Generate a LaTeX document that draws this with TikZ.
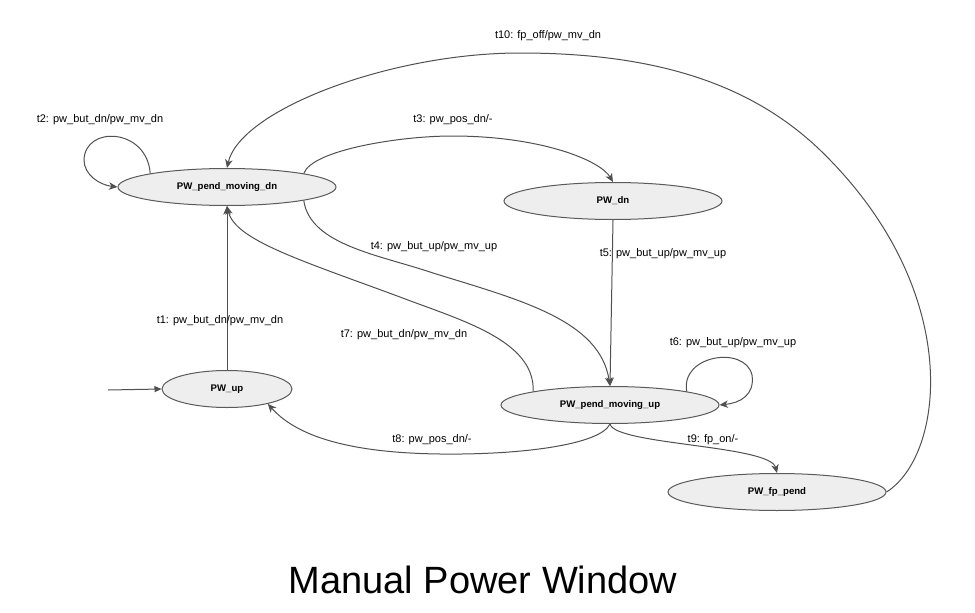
\documentclass[tikz,border=0pt]{standalone}
\usepackage{fontspec}
\setmainfont{Liberation Sans}
\usetikzlibrary{shapes.geometric,arrows.meta}
\definecolor{edgec}{HTML}{505050}
\definecolor{nodefill}{HTML}{EEEEEE}
\definecolor{nodeline}{HTML}{5A5A5A}
\tikzset{
  state/.style={ellipse, draw=nodeline, fill=nodefill, line width=1pt, inner sep=0pt,
    minimum width=218pt, minimum height=37pt, font=\fontsize{9.6}{11}\selectfont\bfseries},
  trans/.style={draw=edgec, line width=1pt, -{Stealth[length=8.5pt,width=7.5pt,inset=2.5pt]}},
  initarrow/.style={draw=edgec, line width=1pt, -{Triangle[length=7pt,width=6pt]}},
  lbl/.style={font=\fontsize{11}{13}\selectfont, inner sep=0pt, text=black},
}
\begin{document}
\begin{tikzpicture}[x=1pt,y=-1pt]
\useasboundingbox (0,0) rectangle (975,613);
% states
\node[state] (pmd) at (227,187) {PW\_pend\_moving\_dn};
\node[state] (dn)  at (613,201) {PW\_dn};
\node[state, minimum width=130pt] (up) at (227,389) {PW\_up};
\node[state] (pmu) at (610,405) {PW\_pend\_moving\_up};
\node[state] (fp)  at (777,492) {PW\_fp\_pend};
\coordinate (init) at (108,390);
% transitions
\draw[initarrow] (init) -- (up.west);
\draw[trans] (up.north) -- (pmd.south);
\draw[trans] (pmd.170) .. controls (147,128) and (85,125) .. (84,160) .. controls (84,175) and (100,185) .. (pmd.west);
\draw[trans] (pmd.10) .. controls (312,150) and (400,136) .. (452,136) .. controls (540,136) and (600,160) .. (dn.north);
\draw[trans] (pmd.-10) .. controls (310,245) and (380,255) .. (433,273) .. controls (520,300) and (600,320) .. (pmu.north);
\draw[trans] (dn.south) -- (pmu.north);
\draw[trans] (pmu.10) .. controls (680,355) and (745,345) .. (752,375) .. controls (755,395) and (740,403) .. (pmu.east);
\draw[trans] (pmu.170) .. controls (535,340) and (460,320) .. (400,297) .. controls (300,260) and (235,240) .. (pmd.south);
\draw[trans] (pmu.south) .. controls (600,445) and (520,455) .. (440,454) .. controls (360,453) and (300,440) .. (up.-20);
\draw[trans] (pmu.south) .. controls (615,445) and (770,445) .. (fp.north);
\draw[trans] (fp.east) .. controls (945,455) and (965,290) .. (820,150) .. controls (748,81) and (650,53) .. (520,53) .. controls (390,53) and (240,110) .. (pmd.north);
% labels
\node[lbl] (l10) at (548,36) {t10: fp\_off/pw\_mv\_dn};
\node[lbl] (l2) at (100,120) {t2: pw\_but\_dn/pw\_mv\_dn};
\node[lbl] (l3) at (453,120) {t3: pw\_pos\_dn/-};
\node[lbl] (l4) at (434,247) {t4: pw\_but\_up/pw\_mv\_up};
\node[lbl] (l5) at (663,254) {t5: pw\_but\_up/pw\_mv\_up};
\node[lbl] (l6) at (733,343) {t6: pw\_but\_up/pw\_mv\_up};
\node[lbl] (l7) at (404,335) {t7: pw\_but\_dn/pw\_mv\_dn};
\node[lbl] (l1) at (220,321) {t1: pw\_but\_dn/pw\_mv\_dn};
\node[lbl] (l8) at (432,440) {t8: pw\_pos\_dn/-};
\node[lbl] (l9) at (713,440) {t9: fp\_on/-};
\node[lbl, font=\fontsize{38}{42}\selectfont] (title) at (483,580) {Manual Power Window};
\end{tikzpicture}
\end{document}
